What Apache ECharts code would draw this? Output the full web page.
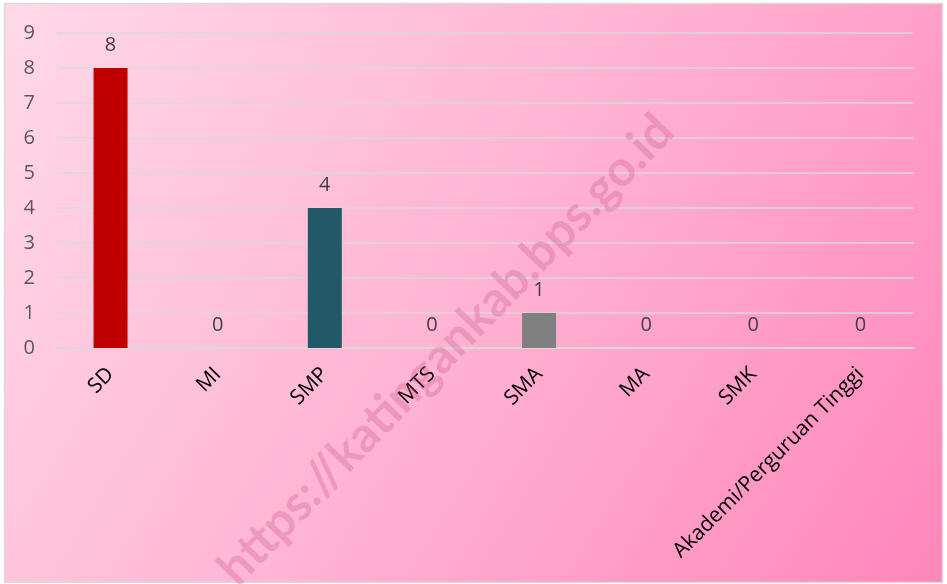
<!DOCTYPE html>
<html>
<head>
<meta charset="utf-8">
<script src="https://cdn.jsdelivr.net/npm/echarts@6/dist/echarts.min.js"></script>
<style>
  html, body { margin: 0; padding: 0; background: #fff; }
  #chartBox { width: 947px; height: 584px; }
</style>
</head>
<body>
<div id="chartBox"></div>
<script>
// data
const categories = ['SD', 'MI', 'SMP', 'MTS', 'SMA', 'MA', 'SMK', 'Akademi/Perguruan Tinggi']
const values = [8, 0, 4, 0, 1, 0, 0, 0]
const barColors = ['#C00000', '#C00000', '#215968', '#215968', '#808080', '#808080', '#808080', '#808080']
const yTicks = [0, 1, 2, 3, 4, 5, 6, 7, 8, 9]

const myChart = echarts.init(document.getElementById('chartBox'))

const chartOptions = {
  animation: false,
  textStyle: { fontFamily: '"Open Sans", sans-serif' },
  graphic: [
    {
      type: 'rect',
      z: -10,
      shape: { x: 4.5, y: 3.5, width: 938, height: 579 },
      style: {
        fill: new echarts.graphic.LinearGradient(0, 0, 1, 1, [
          { offset: 0, color: '#FFD9E8' },
          { offset: 0.5, color: '#FFB3D2' },
          { offset: 1, color: '#FF86BA' }
        ]),
        stroke: '#D9D9D9',
        lineWidth: 1.5
      }
    },
    {
      // watermark
      type: 'text',
      z: 100,
      x: 446,
      y: 350,
      rotation: Math.PI * 46 / 180,
      style: {
        text: 'https://katingankab.bps.go.id',
        font: 'bold 49px Lato, sans-serif',
        fill: 'rgba(190, 70, 120, 0.26)',
        align: 'center',
        verticalAlign: 'middle'
      }
    }
  ],
  grid: { left: 57, right: 33, top: 33, bottom: 236 },
  xAxis: {
    type: 'category',
    data: categories,
    axisLine: { show: true, lineStyle: { color: '#D9D9D9', width: 1.5 } },
    axisTick: { show: false },
    axisLabel: {
      rotate: 45,
      margin: 23,
      interval: 0,
      color: '#000',
      fontSize: 21
    }
  },
  yAxis: {
    type: 'value',
    min: yTicks[0],
    max: yTicks[yTicks.length - 1],
    interval: 1,
    axisLine: { show: false },
    axisTick: { show: false },
    splitLine: { lineStyle: { color: '#D9D9D9', width: 1.5 } },
    axisLabel: { color: '#595959', fontSize: 20, margin: 22 }
  },
  series: [
    {
      type: 'bar',
      barWidth: 34,
      data: values.map((v, i) => ({ value: v, itemStyle: { color: barColors[i] } })),
      label: {
        show: true,
        position: 'top',
        distance: 13,
        color: '#404040',
        fontSize: 20
      }
    }
  ]
}

if (myChart) {
  myChart.setOption(chartOptions)
}
</script>
</body>
</html>
